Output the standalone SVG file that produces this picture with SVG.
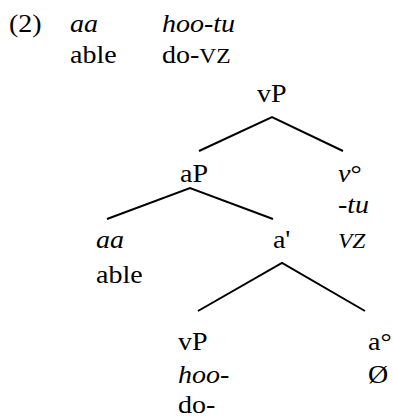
<svg xmlns="http://www.w3.org/2000/svg" width="393" height="419" viewBox="0 0 393 419">
<style>
.t{font-family:'Liberation Serif','Times New Roman',serif;font-size:25px;fill:#000}
.i{font-style:italic}
.sc{font-size:21px}
.edge{stroke:#000;stroke-width:2;fill:none}
</style>
<rect width="393" height="419" fill="#fff"/>
<g id="connectors">
<polyline class="edge" points="199,151 272,117 343,151"/>
<polyline class="edge" points="107,219 190,188 273,219"/>
<polyline class="edge" points="198,311 282,263 365,311"/>
</g>
<g transform="scale(1.12 1)">
<g id="example">
<text x="8" y="32" class="t">(2)</text>
<text x="62.5" y="32" class="t i">aa</text>
<text x="144.6" y="32" class="t i">hoo-tu</text>
<text x="62.5" y="63" class="t">able</text>
<text x="144.6" y="63" class="t">do-<tspan class="sc">VZ</tspan></text>
</g>
<g id="node-vP-top"><text x="229.5" y="102" class="t">vP</text></g>
<g id="node-aP"><text x="160.7" y="182" class="t">aP</text></g>
<g id="node-v0">
<text x="301.8" y="182" class="t"><tspan class="i">v</tspan>°</text>
<text x="301.8" y="213" class="t i">-tu</text>
<text x="301.8" y="248" class="t i sc">VZ</text>
</g>
<g id="node-aa">
<text x="85.7" y="248" class="t i">aa</text>
<text x="85.7" y="283" class="t">able</text>
</g>
<g id="node-a-bar"><text x="243.7" y="248" class="t">a'</text></g>
<g id="node-vP-low">
<text x="158.9" y="350" class="t">vP</text>
<text x="158.9" y="383" class="t i">hoo-</text>
<text x="158.9" y="413" class="t">do-</text>
</g>
<g id="node-a0">
<text x="328.6" y="350" class="t">a°</text>
<text x="328.6" y="383" class="t">Ø</text>
</g>
</g>
</svg>
